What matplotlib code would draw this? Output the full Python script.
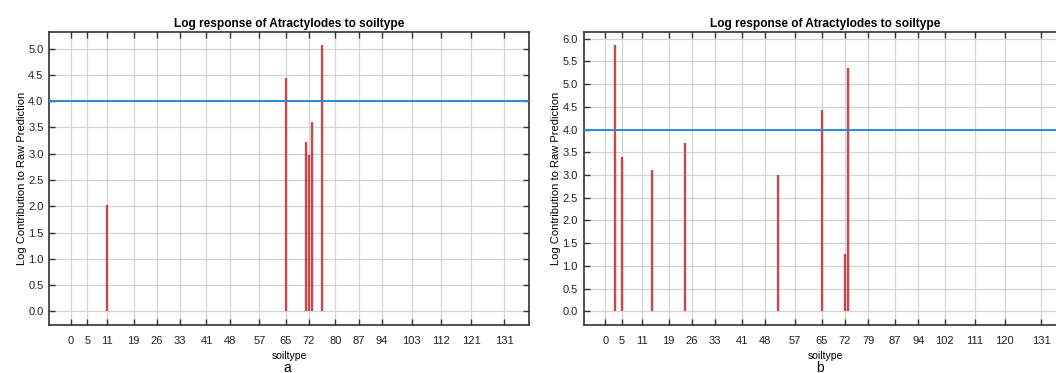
import matplotlib
matplotlib.use("Agg")
from matplotlib import pyplot as plt
import numpy as np

plt.rcParams['font.family'] = ['Liberation Sans', 'DejaVu Sans']

# soil type codes and their log contribution
soil_a = [11, 65, 71, 72, 73, 76]
resp_a = [2.02, 4.44, 3.22, 2.97, 3.60, 5.06]
ticks_a = [0, 5, 11, 19, 26, 33, 41, 48, 57, 65, 72, 80, 87, 94, 103, 112, 121, 131]

soil_b = [3, 5, 14, 24, 52, 65, 72, 73]
resp_b = [5.85, 3.40, 3.11, 3.70, 3.00, 4.42, 1.27, 5.35]
ticks_b = [0, 5, 11, 19, 26, 33, 41, 48, 57, 65, 72, 79, 87, 94, 102, 111, 120, 131]

threshold = 4.0
title = 'Log response of Atractylodes to soiltype'

W, H = 1056, 373
fig = plt.figure(figsize=(W / 100, H / 100), dpi=100)


def draw_panel(rect, soil, resp, ticks, tag, tag_x):
    ax = fig.add_axes(rect)
    ax.vlines(soil, 0, resp, color='#c9474c', linewidth=1.7, zorder=3)
    ax.axhline(threshold, color='#2b8bd3', linewidth=1.4, zorder=4)
    ax.set_xlim(-6.6, 138.6)
    top = 1.05 * max(resp)
    ax.set_ylim(-0.05 * max(resp), top)
    ax.set_xticks(ticks)
    ax.set_yticks(np.arange(0, top, 0.5))
    ax.yaxis.set_major_formatter(matplotlib.ticker.FormatStrFormatter('%.1f'))
    ax.grid(True, color='#d4d4d4', linewidth=0.9, zorder=0)
    ax.set_axisbelow(True)
    ax.tick_params(direction='in', length=4, width=1, color='#333333',
                   top=True, right=True, labelsize=8, labelcolor='#222222')
    ax.tick_params(axis='x', pad=8)
    ax.tick_params(axis='y', pad=4)
    for sp in ax.spines.values():
        sp.set_color('#333333')
        sp.set_linewidth(1.2)
    ax.set_title(title, fontsize=8.6, fontweight='bold', pad=4)
    ax.set_xlabel('soiltype', fontsize=7.5, labelpad=4)
    ax.set_ylabel('Log Contribution to Raw Prediction', fontsize=8, labelpad=1)
    fig.text(tag_x, 0.004, tag, fontsize=10, ha='center', va='baseline')
    return ax


ax_a = draw_panel([49 / W, 48.3 / H, 480.3 / W, 292.6 / H],
                  soil_a, resp_a, ticks_a, 'a', 287 / W)
ax_b = draw_panel([583.5 / W, 48.3 / H, 483 / W, 292.6 / H],
                  soil_b, resp_b, ticks_b, 'b', 820 / W)

fig.savefig('out.png', dpi=100)
